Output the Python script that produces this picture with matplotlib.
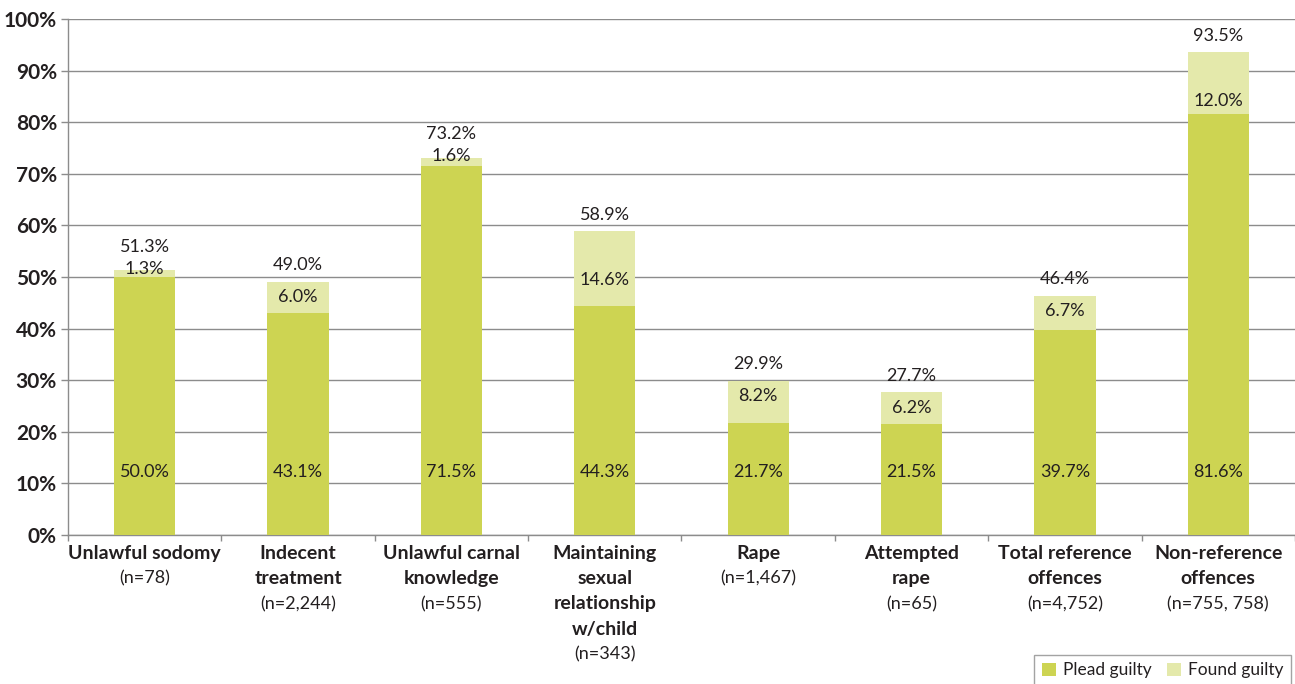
import numpy as np
import matplotlib
matplotlib.use("Agg")
import matplotlib.pyplot as plt
from matplotlib.patches import Patch

plt.rcParams['font.family'] = ['Lato', 'DejaVu Sans']

offences = ["Unlawful sodomy", "Indecent\ntreatment", "Unlawful carnal\nknowledge",
            "Maintaining\nsexual\nrelationship\nw/child", "Rape", "Attempted\nrape",
            "Total reference\noffences", "Non-reference\noffences"]
counts = ["(n=78)", "(n=2,244)", "(n=555)", "(n=343)", "(n=1,467)", "(n=65)",
          "(n=4,752)", "(n=755, 758)"]
plead = [50.0, 43.1, 71.5, 44.3, 21.7, 21.5, 39.7, 81.6]
found = [1.3, 6.0, 1.6, 14.6, 8.2, 6.2, 6.7, 12.0]
totals = [51.3, 49.0, 73.2, 58.9, 29.9, 27.7, 46.4, 93.5]

c_plead = "#cdd452"
c_found = "#e4e9ab"
txt = "#231f20"
grey = "#8c8c8c"

fig = plt.figure(figsize=(12.95, 6.84), dpi=100)
ax = fig.add_axes([0.0525, 0.2178, 0.9475, 0.7544])

x = np.arange(len(offences))
ax.bar(x, plead, width=0.4, color=c_plead, zorder=3)
ax.bar(x, found, width=0.4, bottom=plead, color=c_found, zorder=3)

vfont = dict(fontsize=13, color=txt, zorder=4, ha="center", va="center")
for i in x:
    top = plead[i] + found[i]
    ax.text(i, 12.2, f"{plead[i]:.1f}%", **vfont)
    off = min(found[i] / 2, 3.0) if found[i] < 10 else 9.4
    if found[i] < 3:
        off = -0.3
    ax.text(i, top - off, f"{found[i]:.1f}%", **vfont)
    lift = 4.6 if found[i] < 3 else 3.2
    ax.text(i, top + lift, f"{totals[i]:.1f}%", **vfont)

ax.set_xlim(-0.5, len(offences) - 0.5)
ax.set_ylim(0, 100)
ax.set_yticks(np.arange(0, 101, 10))
ax.set_yticklabels([f"{v}%" for v in range(0, 101, 10)], fontsize=15, fontweight="bold", color=txt)
ax.yaxis.grid(True, color=grey, linewidth=1, zorder=0)
ax.tick_params(axis="y", length=5, color=grey, width=1, pad=3)

ax.set_xticks(x)
ax.set_xticklabels([])
ax.tick_params(axis="x", length=0)
ax.set_xticks(np.arange(-0.5, len(offences), 1), minor=True)
ax.tick_params(axis="x", which="minor", length=4, color=grey, width=1)

for s in ["top", "right"]:
    ax.spines[s].set_visible(False)
for s in ["left", "bottom"]:
    ax.spines[s].set_color(grey)
    ax.spines[s].set_linewidth(1)

# category names in bold, one line at a time, with the case count underneath
step = 18.3
for i in x:
    lines = offences[i].split("\n")
    for k, line in enumerate(lines):
        ax.annotate(line, (i, 0), xytext=(0, -13 - step * k), textcoords="offset points",
                    ha="center", va="center", fontsize=14, fontweight="bold", color=txt,
                    annotation_clip=False)
    ax.annotate(counts[i], (i, 0), xytext=(0, -13 - step * len(lines)), textcoords="offset points",
                ha="center", va="center", fontsize=13, color=txt,
                annotation_clip=False)

handles = [Patch(facecolor=c_plead, label="Plead guilty"),
           Patch(facecolor=c_found, label="Found guilty")]
leg = fig.legend(handles=handles, loc="lower right", bbox_to_anchor=(1.004, -0.016), ncol=2,
                 frameon=True, fancybox=False, fontsize=12.5, handlelength=0.8, handleheight=0.8,
                 handletextpad=0.4, columnspacing=0.9, borderpad=0.45)
leg.get_frame().set_edgecolor(grey)
leg.get_frame().set_linewidth(1)
for t in leg.get_texts():
    t.set_color(txt)

fig.savefig("out.png", dpi=100)
